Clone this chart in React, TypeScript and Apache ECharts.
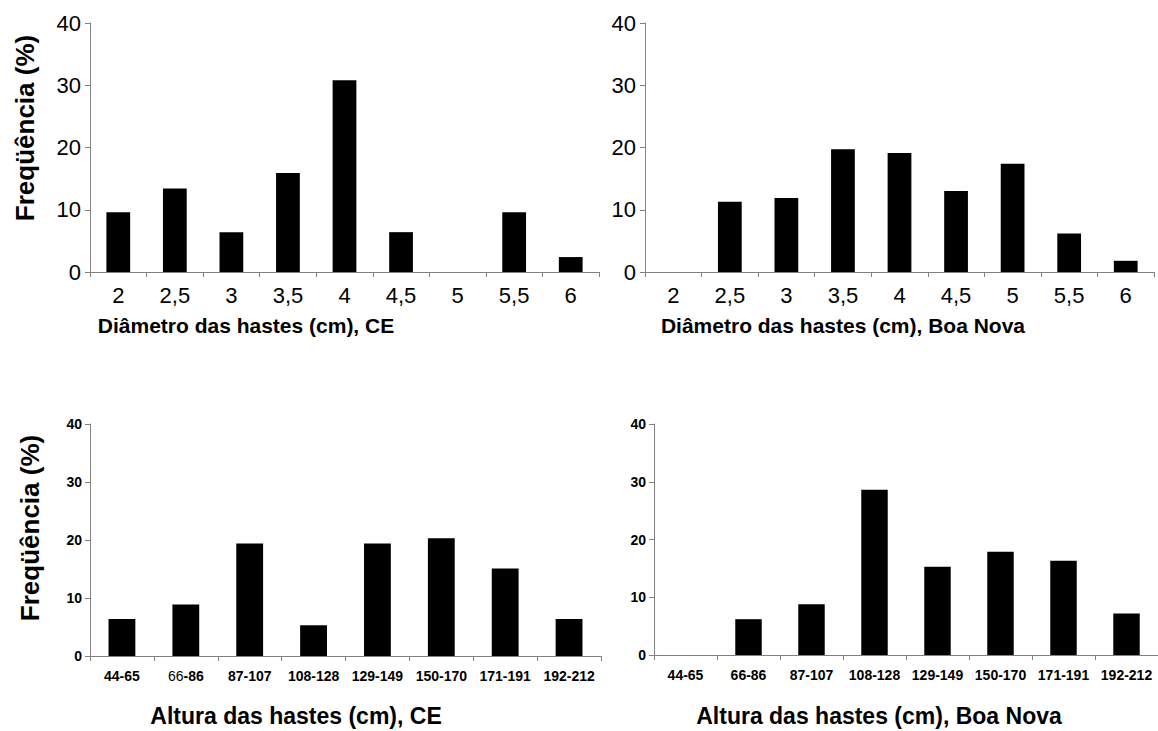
import React, { useEffect, useRef } from "react";
import * as echarts from "echarts";

const diamCats = ["2", "2,5", "3", "3,5", "4", "4,5", "5", "5,5", "6"];
const diamCE = [9.6, 13.4, 6.4, 15.9, 30.8, 6.4, 0, 9.6, 2.4];
const diamBN = [0, 11.3, 11.9, 19.7, 19.1, 13.0, 17.4, 6.2, 1.8];
const altCats = ["44-65", "66-86", "87-107", "108-128", "129-149", "150-170", "171-191", "192-212"];
const altCE = [6.4, 8.9, 19.4, 5.3, 19.4, 20.3, 15.1, 6.4];
const altBN = [0, 6.2, 8.8, 28.6, 15.3, 17.9, 16.3, 7.2];
const yTicks = [0, 10, 20, 30, 40];

const FONT = "'Liberation Sans', Arial, Helvetica, sans-serif";
const AXIS_COLOR = "#808080";

export default function App() {
  const ref = useRef<HTMLDivElement>(null);
  useEffect(() => {
    document.body.style.margin = "0";
    const chart = echarts.init(ref.current!, undefined, { renderer: "svg" });
    const grids = [
      { left: 90, top: 23, width: 509, height: 249 },
      { left: 645, top: 23, width: 509, height: 249 },
      { left: 90, top: 424, width: 511, height: 232 },
      { left: 654, top: 424, width: 506, height: 231 },
    ];
    const isTop = (i: number) => i < 2;
    const xAxis = grids.map((_, i) => ({
      type: "category",
      gridIndex: i,
      data: isTop(i) ? diamCats : altCats,
      boundaryGap: true,
      axisLine: { show: true, lineStyle: { color: AXIS_COLOR, width: 1 } },
      axisTick: { show: true, length: 5, inside: false, alignWithLabel: false, lineStyle: { color: AXIS_COLOR } },
      axisLabel: isTop(i)
        ? { color: "#000", fontSize: 22, fontFamily: FONT, margin: 12, interval: 0 }
        : {
            color: "#000",
            fontSize: 14,
            fontWeight: "bold",
            fontFamily: FONT,
            margin: 13,
            interval: 0,
            formatter: (v: string) => (i === 2 && v === "66-86" ? "{r|66}{b|-86}" : v),
            rich: {
              r: { fontSize: 14, fontWeight: "normal", fontFamily: FONT, color: "#000" },
              b: { fontSize: 14, fontWeight: "bold", fontFamily: FONT, color: "#000" },
            },
          },
      splitLine: { show: false },
    }));
    const yAxis = grids.map((_, i) => ({
      type: "value",
      gridIndex: i,
      min: yTicks[0],
      max: yTicks[yTicks.length - 1],
      interval: 10,
      axisLine: { show: true, lineStyle: { color: AXIS_COLOR, width: 1 } },
      axisTick: { show: true, length: 5, inside: false, lineStyle: { color: AXIS_COLOR } },
      axisLabel: isTop(i)
        ? { color: "#000", fontSize: 22, fontFamily: FONT, margin: 9 }
        : { color: "#000", fontSize: 14, fontWeight: "bold", fontFamily: FONT, margin: 8 },
      splitLine: { show: false },
    }));
    const seriesData = [diamCE, diamBN, altCE, altBN];
    const series = seriesData.map((d, i) => ({
      type: "bar",
      xAxisIndex: i,
      yAxisIndex: i,
      data: d,
      barWidth: "42%",
      itemStyle: { color: "#000" },
    }));
    const nameStyle = (size: number) => ({
      fill: "#000",
      fontSize: size,
      fontWeight: "bold",
      fontFamily: FONT,
      textAlign: "center",
      textVerticalAlign: "middle",
    });
    const graphic = [
      { type: "text", x: 246, y: 325, style: { ...nameStyle(21), text: "Diâmetro das hastes (cm), CE" } },
      { type: "text", x: 843, y: 325, style: { ...nameStyle(21), text: "Diâmetro das hastes (cm), Boa Nova" } },
      { type: "text", x: 296, y: 716, style: { ...nameStyle(23), text: "Altura das hastes (cm), CE" } },
      { type: "text", x: 879, y: 716, style: { ...nameStyle(23), text: "Altura das hastes (cm), Boa Nova" } },
      { type: "text", x: 25, y: 128, rotation: Math.PI / 2, style: { ...nameStyle(26), text: "Freqüência (%)" } },
      { type: "text", x: 30, y: 528, rotation: Math.PI / 2, style: { ...nameStyle(26), text: "Freqüência (%)" } },
    ];
    chart.setOption({
      animation: false,
      backgroundColor: "#fff",
      grid: grids,
      xAxis,
      yAxis,
      series,
      graphic,
    } as any);
    return () => chart.dispose();
  }, []);
  return (
    <div
      ref={ref}
      style={{ position: "absolute", left: 0, top: 0, width: 1158, height: 731, background: "#fff" }}
    />
  );
}
